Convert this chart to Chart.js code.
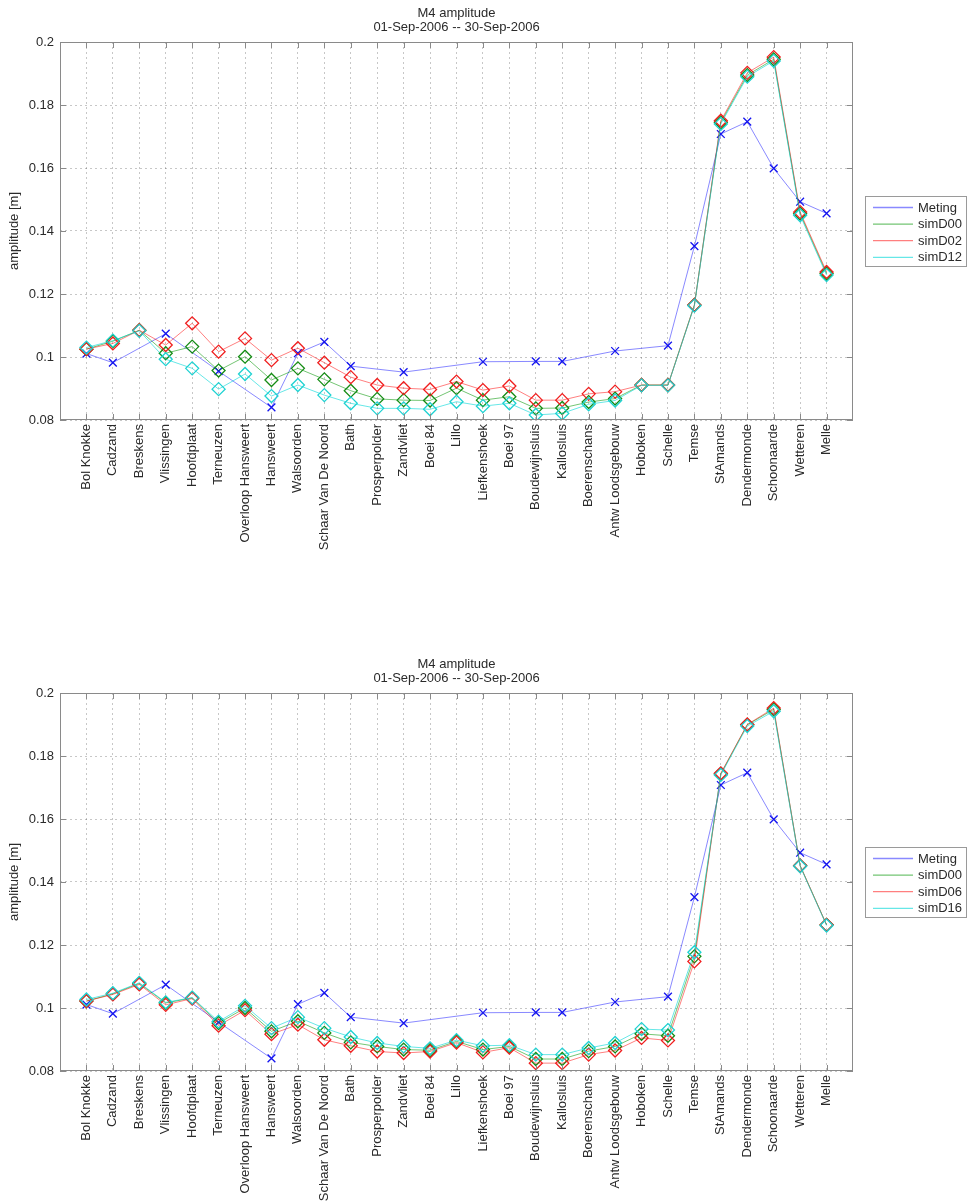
<!DOCTYPE html>
<html><head><meta charset="utf-8">
<script src="https://cdn.jsdelivr.net/npm/chart.js@4.4.1/dist/chart.umd.min.js"></script>
<style>
html,body{margin:0;padding:0;background:#fff;}
#wrap{position:relative;width:968px;height:1204px;overflow:hidden;background:#fff;}
canvas{position:absolute;left:0;}
#c1{top:0;} #c2{top:651px;}
</style></head><body>
<div id="wrap"><canvas id="c1" width="968" height="651"></canvas><canvas id="c2" width="968" height="553"></canvas></div>
<script>
const categories = ['Bol Knokke','Cadzand','Breskens','Vlissingen','Hoofdplaat','Terneuzen','Overloop Hansweert','Hansweert','Walsoorden','Schaar Van De Noord','Bath','Prosperpolder','Zandvliet','Boei 84','Lillo','Liefkenshoek','Boei 97','Boudewijnsluis','Kallosluis','Boerenschans','Antw Loodsgebouw','Hoboken','Schelle','Temse','StAmands','Dendermonde','Schoonaarde','Wetteren','Melle'];
const yTicks = [0.08, 0.10, 0.12, 0.14, 0.16, 0.18, 0.20];
const yTickLabels = ['0.08','0.1','0.12','0.14','0.16','0.18','0.2'];
const titleLines = ['M4 amplitude', '01-Sep-2006 -- 30-Sep-2006'];
const yTitle = 'amplitude [m]';

const meting = [0.1011, 0.0982, null, 0.1074, null, 0.0955, null, 0.0840, 0.1012, 0.1048, 0.0971, null, 0.0952, null, null, 0.0985, null, 0.0986, 0.0986, null, 0.1019, null, 0.1036, 0.1352, 0.1708, 0.1747, 0.1599, 0.1493, 0.1456];

const topSimD00 = [0.1025, 0.1050, 0.1085, 0.1012, 0.1033, 0.0957, 0.1001, 0.0927, 0.0964, 0.0929, 0.0893, 0.0867, 0.0863, 0.0862, 0.0901, 0.0863, 0.0874, 0.0837, 0.0838, 0.0857, 0.0868, 0.0911, 0.0911, 0.1165, 0.1745, 0.1895, 0.1945, 0.1455, 0.1265];
const topSimD02 = [0.1025, 0.1043, 0.1085, 0.1038, 0.1107, 0.1017, 0.1059, 0.0990, 0.1028, 0.0982, 0.0936, 0.0911, 0.0901, 0.0897, 0.0922, 0.0895, 0.0908, 0.0863, 0.0863, 0.0883, 0.0890, 0.0911, 0.0911, 0.1165, 0.1750, 0.1902, 0.1952, 0.1460, 0.1270];
const topSimD12 = [0.1030, 0.1052, 0.1083, 0.0993, 0.0964, 0.0898, 0.0946, 0.0876, 0.0911, 0.0879, 0.0853, 0.0837, 0.0837, 0.0834, 0.0858, 0.0844, 0.0853, 0.0816, 0.0821, 0.0850, 0.0862, 0.0910, 0.0910, 0.1163, 0.1740, 0.1890, 0.1940, 0.1450, 0.1260];

const botSimD00 = [0.1022, 0.1045, 0.1078, 0.1016, 0.1032, 0.0952, 0.1000, 0.0926, 0.0958, 0.0921, 0.0891, 0.0878, 0.0868, 0.0866, 0.0894, 0.0868, 0.0878, 0.0838, 0.0838, 0.0863, 0.0878, 0.0918, 0.0912, 0.1164, 0.1743, 0.1899, 0.1948, 0.1452, 0.1264];
const botSimD06 = [0.1022, 0.1043, 0.1075, 0.1010, 0.1030, 0.0944, 0.0993, 0.0917, 0.0947, 0.0899, 0.0880, 0.0862, 0.0857, 0.0862, 0.0890, 0.0859, 0.0874, 0.0825, 0.0825, 0.0852, 0.0865, 0.0905, 0.0897, 0.1148, 0.1745, 0.1900, 0.1952, 0.1452, 0.1264];
const botSimD16 = [0.1027, 0.1047, 0.1080, 0.1018, 0.1033, 0.0957, 0.1007, 0.0936, 0.0971, 0.0936, 0.0908, 0.0889, 0.0878, 0.0872, 0.0898, 0.0880, 0.0882, 0.0852, 0.0852, 0.0873, 0.0889, 0.0933, 0.0930, 0.1177, 0.1740, 0.1895, 0.1942, 0.1450, 0.1262];

const topNames = ['Meting', 'simD00', 'simD02', 'simD12'];
const botNames = ['Meting', 'simD00', 'simD06', 'simD16'];

const FONT = '"Liberation Sans", Arial, Helvetica, sans-serif';
const TEXT = '#2a2a2a';

const styles = [
  {line: 'rgba(40,40,255,0.55)', mark: 'rgb(20,20,240)', point: 'crossRot', r: 5.5},
  {line: 'rgba(0,150,0,0.55)', mark: 'rgb(20,140,20)', point: 'rectRot', r: 6.5},
  {line: 'rgba(255,0,0,0.5)', mark: 'rgb(240,30,30)', point: 'rectRot', r: 6.5},
  {line: 'rgba(0,215,215,0.6)', mark: 'rgb(30,210,210)', point: 'rectRot', r: 6.5}
];

function toXY(arr) { return arr.map((v, i) => ({x: i + 1, y: v})); }

function makeDatasets(series, names) {
  return series.map((s, k) => ({
    label: names[k],
    data: toXY(s),
    borderColor: styles[k].line,
    borderWidth: 1,
    pointStyle: styles[k].point,
    pointRadius: styles[k].r,
    pointBorderColor: styles[k].mark,
    pointBorderWidth: 1.3,
    pointBackgroundColor: 'rgba(0,0,0,0)',
    pointHoverRadius: styles[k].r,
    spanGaps: true,
    tension: 0,
    order: 4 - k
  }));
}

const deco = {
  id: 'deco',
  afterDraw(chart) {
    const {ctx, chartArea: a} = chart;
    const names = chart.options.plugins.deco.names;
    ctx.save();
    ctx.strokeStyle = '#8a8a8a';
    ctx.lineWidth = 1;
    ctx.setLineDash([]);
    ctx.strokeRect(Math.round(a.left) + 0.5, Math.round(a.top) + 0.5, Math.round(a.right - a.left) - 1, Math.round(a.bottom - a.top) - 1);
    ctx.beginPath();
    categories.forEach((c, i) => {
      const px = Math.round(chart.scales.x.getPixelForValue(i + 1)) + 0.5;
      ctx.moveTo(px, a.bottom); ctx.lineTo(px, a.bottom - 6);
      ctx.moveTo(px, a.top); ctx.lineTo(px, a.top + 6);
    });
    yTicks.forEach(v => {
      const py = Math.round(chart.scales.y.getPixelForValue(v)) + 0.5;
      ctx.moveTo(a.left, py); ctx.lineTo(a.left + 6, py);
      ctx.moveTo(a.right, py); ctx.lineTo(a.right - 6, py);
    });
    ctx.stroke();
    ctx.fillStyle = TEXT;
    ctx.font = '13px ' + FONT;
    ctx.textAlign = 'center';
    ctx.textBaseline = 'middle';
    const cx = (a.left + a.right) / 2;
    ctx.fillText(titleLines[0], cx, 13);
    ctx.fillText(titleLines[1], cx, 27);
    const lx = 865.5, ly = 196.5, lw = 101, lh = 70;
    ctx.fillStyle = '#fff';
    ctx.fillRect(lx, ly, lw, lh);
    ctx.strokeStyle = '#9a9a9a';
    ctx.strokeRect(lx, ly, lw, lh);
    ctx.textAlign = 'left';
    names.forEach((n, k) => {
      const yy = 207.5 + k * 16.6;
      ctx.strokeStyle = styles[k].line;
      ctx.lineWidth = 1.3;
      ctx.beginPath(); ctx.moveTo(873, yy); ctx.lineTo(913, yy); ctx.stroke();
      ctx.fillStyle = TEXT;
      ctx.fillText(n, 918, yy + 0.5);
    });
    ctx.restore();
  }
};

function makeChart(id, series, names, xAxisHeight) {
  return new Chart(document.getElementById(id), {
    type: 'line',
    data: {datasets: makeDatasets(series, names)},
    plugins: [deco],
    options: {
      responsive: false,
      animation: false,
      devicePixelRatio: 1,
      layout: {padding: {top: 42, right: 115, left: 0, bottom: 0}},
      plugins: {legend: {display: false}, title: {display: false}, tooltip: {enabled: false}, deco: {names: names}},
      scales: {
        x: {
          type: 'linear', min: 0, max: 30,
          afterBuildTicks: s => { s.ticks = categories.map((c, i) => ({value: i + 1})); },
          afterFit: s => { s.height = xAxisHeight; },
          ticks: {autoSkip: false, maxRotation: 90, minRotation: 90, padding: 4, color: TEXT, font: {size: 13, family: FONT},
                  callback: v => categories[v - 1]},
          grid: {color: 'rgba(0,0,0,0.22)', lineWidth: 1, drawTicks: false},
          border: {display: false, dash: [2, 3]}
        },
        y: {
          type: 'linear', min: 0.08, max: 0.2,
          afterBuildTicks: s => { s.ticks = yTicks.map(v => ({value: v})); },
          afterFit: s => { s.width = 60; },
          ticks: {padding: 6, color: TEXT, font: {size: 13, family: FONT}, callback: (v, i) => yTickLabels[i]},
          title: {display: true, text: yTitle, color: TEXT, font: {size: 13, family: FONT}, padding: {top: 7, bottom: 0}},
          grid: {color: 'rgba(0,0,0,0.22)', lineWidth: 1, drawTicks: false},
          border: {display: false, dash: [2, 3]}
        }
      }
    }
  });
}

makeChart('c1', [meting, topSimD00, topSimD02, topSimD12], topNames, 231);
makeChart('c2', [meting, botSimD00, botSimD06, botSimD16], botNames, 133);
</script>
</body></html>
